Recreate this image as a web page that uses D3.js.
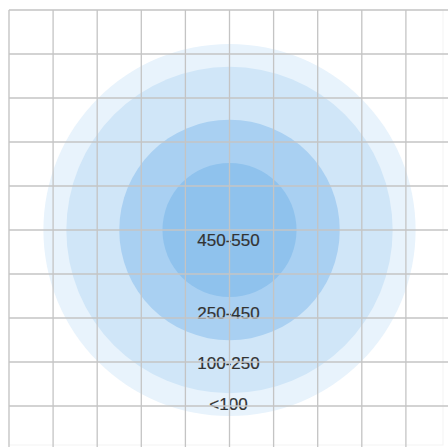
<!DOCTYPE html>
<html lang="en">
<head>
<meta charset="UTF-8">
<title>Nested circles</title>
<style>
    body {
        margin: 0;
        padding: 0;
        background-color: #fff;
    }
    svg text {
        font-family: Arial, "Liberation Sans", sans-serif;
    }
</style>
</head>
<body>
<svg id="chart" width="448" height="447"></svg>

<script src="https://d3js.org/d3.v7.min.js"></script>
<script>
    // bands, outermost first (radius and label position in grid units)
    var labels = ["<100", "100-250", "250-450", "450-550"];
    var radii = [4.22, 3.7, 2.5, 1.52];
    var labelY = [9.08, 8.15, 7.03, 5.37];
    var colors = ["#e8f3fc", "#d0e6f8", "#a9d0f2", "#8fc2ed"];
    var gridTicks = d3.range(0, 10);
    var center = [5, 5];

    const svg = d3.select("#chart");

    const xScale = d3.scaleLinear().domain([0, 10]).range([9, 450]);
    const yScale = d3.scaleLinear().domain([0, 10]).range([10, 450]);
    const unit = xScale(1) - xScale(0);

    // circles
    svg.selectAll("circle.band")
      .data(radii)
      .enter()
      .append("circle")
      .attr("class", "band")
      .attr("cx", xScale(center[0]))
      .attr("cy", yScale(center[1]))
      .attr("r", d => d * unit)
      .attr("fill", (d, i) => colors[i]);

    // labels
    svg.selectAll("text.label")
      .data(labels)
      .enter()
      .append("text")
      .attr("class", "label")
      .attr("x", xScale(center[0]) - 1)
      .attr("y", (d, i) => yScale(labelY[i]))
      .attr("text-anchor", "middle")
      .attr("font-size", 17)
      .attr("fill", "#333")
      .attr("stroke", "#333")
      .attr("stroke-width", 0.2)
      .text(d => d);

    // faint outer frame
    svg.append("rect")
      .attr("x", xScale(0))
      .attr("y", yScale(0))
      .attr("width", 443 - xScale(0))
      .attr("height", 445 - yScale(0))
      .attr("fill", "none")
      .attr("stroke", "#f3f3f3")
      .attr("stroke-width", 1);

    // grid drawn over everything
    const grid = svg.append("g")
      .attr("stroke", "#c4c4c4")
      .attr("stroke-width", 1.3);

    grid.selectAll("line.v")
      .data(gridTicks)
      .enter()
      .append("line")
      .attr("class", "v")
      .attr("x1", d => xScale(d))
      .attr("x2", d => xScale(d))
      .attr("y1", yScale(0))
      .attr("y2", 447);

    grid.selectAll("line.h")
      .data(gridTicks)
      .enter()
      .append("line")
      .attr("class", "h")
      .attr("y1", d => yScale(d))
      .attr("y2", d => yScale(d))
      .attr("x1", xScale(0))
      .attr("x2", 448);
</script>
</body>
</html>
